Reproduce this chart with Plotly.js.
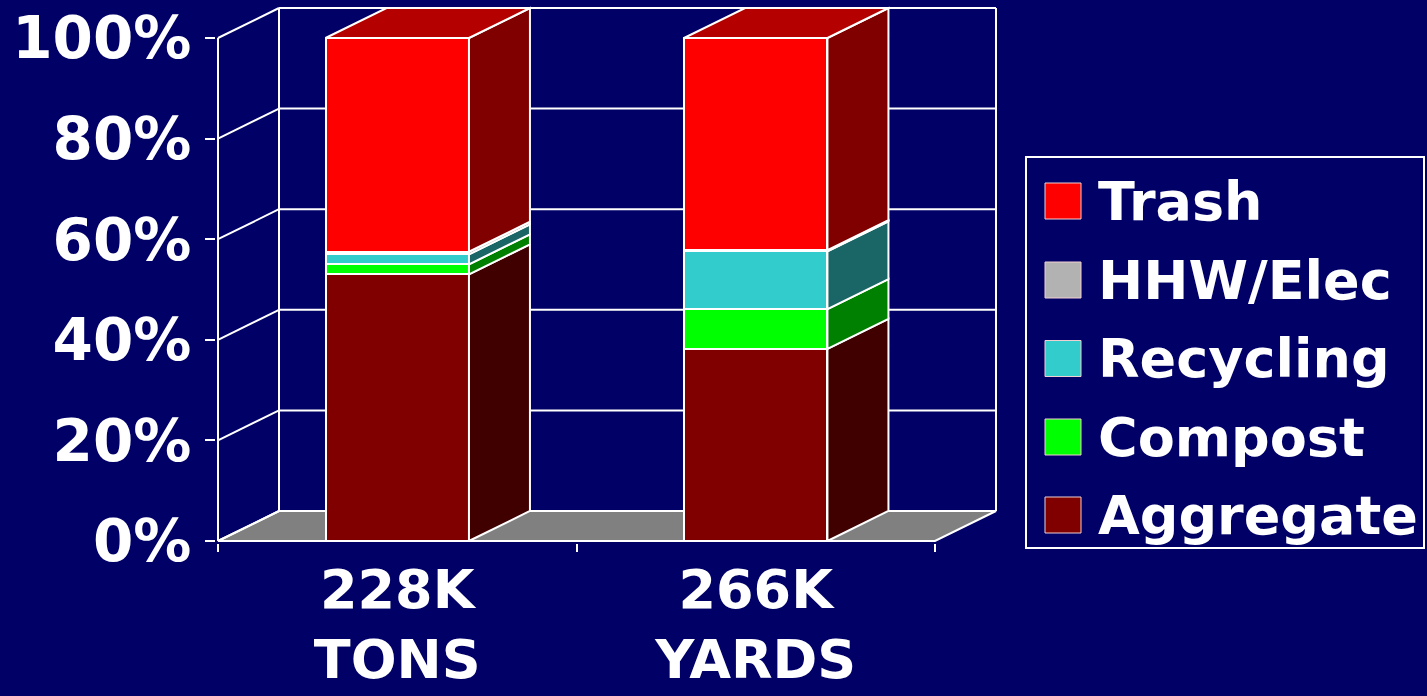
<!DOCTYPE html>
<html>
<head>
<meta charset="utf-8">
<script src="https://cdn.plot.ly/plotly-3.0.1.min.js"></script>
<style>
  html, body { margin: 0; padding: 0; background: #000066; }
  #chart { width: 1427px; height: 696px; }
</style>
</head>
<body>
<div id="chart"></div>
<script>
// ---------------- DATA ----------------
const categories = ['228K<br>TONS', '266K<br>YARDS'];
const seriesNames = ['Aggregate', 'Compost', 'Recycling', 'HHW/Elec', 'Trash'];
const aggregate = [53.0, 38.2];
const compost   = [2.0, 7.9];
const recycling = [2.0, 11.5];
const hhwElec   = [0.5, 0.2];
const trash     = [42.5, 42.2];
const yTickVals = [0, 20, 40, 60, 80, 100];
const yTickText = ['0%', '20%', '40%', '60%', '80%', '100%'];

// ---------------- STYLE ----------------
const seriesValues = [aggregate, compost, recycling, hhwElec, trash];
const frontColors = ['#800000', '#00FF00', '#33CCCC', '#B2B2B2', '#FF0000'];
const sideColors  = ['#400000', '#008000', '#1A6666', '#595959', '#800000'];
const topColor = '#B50000';
const bg = '#000066';
const FONT = 'DejaVu Sans, Verdana, sans-serif';

// geometry (pixels per unit)
const SX = 358.5, SY = 5.03;
const dx = 61 / SX, dy = 30 / SY;     // 3D depth offset in data units
const padX = 2 / SX, padY = 2 / SY;
const barW = 0.4;
const xPos = categories.map((c, i) => i);

const ML = 216, MR = 429, MT = 6, MB = 153;
const W = 1427, H = 696;
const PW = W - ML - MR, PH = H - MT - MB;
const px2paperX = p => (p - ML) / PW;
const px2paperY = p => (H - MB - p) / PH;

// ---------------- TRACES ----------------
const traces = [];
seriesNames.forEach((name, i) => {
  traces.push({
    type: 'bar', name: name, x: xPos, y: seriesValues[i], width: barW,
    marker: { color: frontColors[i], line: { color: 'white', width: 2 } },
    showlegend: false, hoverinfo: 'skip'
  });
});

// side faces and top faces derived from stacked data
xPos.forEach((xc, j) => {
  let base = 0;
  const xl = xc - barW / 2, xr = xc + barW / 2;
  seriesNames.forEach((name, i) => {
    const v = seriesValues[i][j];
    const top = base + v;
    traces.push({
      type: 'scatter', mode: 'lines', fill: 'toself',
      x: [xr, xr + dx, xr + dx, xr, xr],
      y: [base, base + dy, top + dy, top, base],
      fillcolor: sideColors[i], line: { color: 'white', width: 2 },
      showlegend: false, hoverinfo: 'skip'
    });
    base = top;
  });
  traces.push({
    type: 'scatter', mode: 'lines', fill: 'toself',
    x: [xl, xr, xr + dx, xl + dx, xl],
    y: [base, base, base + dy, base + dy, base],
    fillcolor: topColor, line: { color: 'white', width: 2 },
    showlegend: false, hoverinfo: 'skip'
  });
});

// ---------------- FRAME SHAPES ----------------
const x0 = -0.5, x1 = categories.length - 0.5;
const yMax = yTickVals[yTickVals.length - 1];
const shapes = [];
const wl = { color: 'white', width: 2 };
// floor
shapes.push({ type: 'path', layer: 'below', xref: 'x', yref: 'y',
  path: `M ${x0},0 L ${x1},0 L ${x1 + dx},${dy} L ${x0 + dx},${dy} Z`,
  fillcolor: '#808080', line: wl });
// back wall grid lines & side-wall diagonals
yTickVals.forEach(v => {
  shapes.push({ type: 'line', layer: 'below', xref: 'x', yref: 'y',
    x0: x0 + dx, x1: x1 + dx, y0: v + dy, y1: v + dy, line: wl });
  shapes.push({ type: 'line', layer: 'below', xref: 'x', yref: 'y',
    x0: x0, x1: x0 + dx, y0: v, y1: v + dy, line: wl });
});
// back wall verticals
[x0 + dx, x1 + dx].forEach(xx => {
  shapes.push({ type: 'line', layer: 'below', xref: 'x', yref: 'y',
    x0: xx, x1: xx, y0: dy, y1: yMax + dy, line: wl });
});
// front axis lines
shapes.push({ type: 'line', layer: 'below', xref: 'x', yref: 'y',
  x0: x0, x1: x0, y0: 0, y1: yMax, line: wl });
shapes.push({ type: 'line', layer: 'below', xref: 'x', yref: 'y',
  x0: x0, x1: x1, y0: 0, y1: 0, line: wl });

// ---------------- CUSTOM LEGEND ----------------
const annotations = [];
shapes.push({ type: 'rect', xref: 'paper', yref: 'paper',
  x0: px2paperX(1026), x1: px2paperX(1424), y0: px2paperY(548), y1: px2paperY(157),
  line: wl, fillcolor: 'rgba(0,0,0,0)' });
const rowY = [201, 280, 358.5, 437, 515];
const legendOrder = seriesNames.map((n, i) => i).reverse();
legendOrder.forEach((si, r) => {
  const cy = rowY[r];
  shapes.push({ type: 'rect', xref: 'paper', yref: 'paper',
    x0: px2paperX(1045), x1: px2paperX(1081), y0: px2paperY(cy + 18), y1: px2paperY(cy - 18),
    fillcolor: frontColors[si], line: { color: '#f0d0d0', width: 1 } });
  annotations.push({ xref: 'paper', yref: 'paper', x: px2paperX(1096), y: px2paperY(cy),
    xanchor: 'left', yanchor: 'middle', showarrow: false, text: seriesNames[si],
    font: { family: FONT, size: 54, color: 'white', weight: 'bold' } });
});

// ---------------- LAYOUT ----------------
const layout = {
  width: W, height: H,
  margin: { l: ML, r: MR, t: MT, b: MB, pad: 0 },
  paper_bgcolor: bg, plot_bgcolor: bg,
  barmode: 'stack', hovermode: false, showlegend: false,
  xaxis: {
    range: [x0 - padX, x1 + dx + padX], fixedrange: true,
    tickmode: 'array', tickvals: xPos, ticktext: categories,
    ticks: '', showgrid: false, zeroline: false, showline: false, automargin: false,
    ticklabelstandoff: 10,
    tickfont: { family: FONT, size: 54, color: 'white', weight: 'bold' },
    minor: { tickmode: 'array', tickvals: [x0, 0.5, x1], ticks: 'outside', ticklen: 8,
             tickwidth: 2, tickcolor: 'white', showgrid: false }
  },
  yaxis: {
    range: [-padY, yMax + dy + padY], fixedrange: true,
    tickmode: 'array', tickvals: yTickVals, ticktext: yTickText,
    ticks: 'outside', ticklen: 10, tickwidth: 2, tickcolor: 'white',
    ticklabelstandoff: 2,
    showgrid: false, zeroline: false, showline: false, automargin: false,
    tickfont: { family: FONT, size: 58, color: 'white', weight: 'bold' }
  },
  shapes: shapes, annotations: annotations
};

Plotly.newPlot('chart', traces, layout, { staticPlot: true, displayModeBar: false });
</script>
</body>
</html>
